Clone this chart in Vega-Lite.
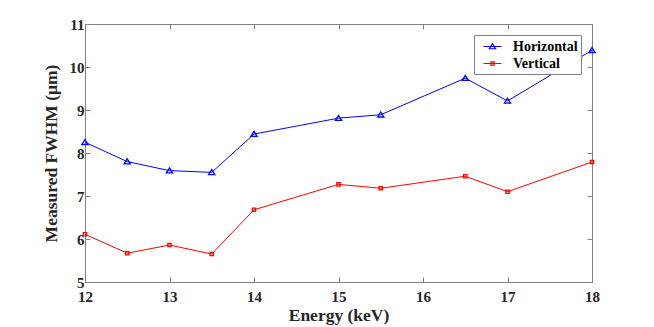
{
  "$schema": "https://vega.github.io/schema/vega-lite/v6.json",
  "autosize": {"type": "none"},
  "width": 507,
  "height": 258,
  "padding": {"left": 85, "top": 24, "right": 62, "bottom": 45},
  "background": "white",
  "config": {
    "view": {"stroke": "#808080", "strokeWidth": 1},
    "font": "Liberation Serif",
    "axis": {
      "grid": false,
      "domainColor": "#808080",
      "tickColor": "#808080",
      "tickSize": -5,
      "labelFlush": false,
      "labelFont": "Liberation Serif",
      "labelFontWeight": "bold",
      "labelFontSize": 15,
      "labelColor": "#262626",
      "titleFont": "Liberation Serif",
      "titleFontWeight": "bold",
      "titleFontSize": 17.5,
      "titleColor": "#262626"
    },
    "legend": {
      "labelFont": "Liberation Serif",
      "labelFontWeight": "bold",
      "labelFontSize": 14,
      "labelColor": "#000000"
    }
  },
  "data": {
    "values": [
      {"energy": 12, "fwhm": 8.25, "dir": "Horizontal"},
      {"energy": 12.5, "fwhm": 7.80, "dir": "Horizontal"},
      {"energy": 13, "fwhm": 7.59, "dir": "Horizontal"},
      {"energy": 13.5, "fwhm": 7.55, "dir": "Horizontal"},
      {"energy": 14, "fwhm": 8.44, "dir": "Horizontal"},
      {"energy": 15, "fwhm": 8.81, "dir": "Horizontal"},
      {"energy": 15.5, "fwhm": 8.89, "dir": "Horizontal"},
      {"energy": 16.5, "fwhm": 9.74, "dir": "Horizontal"},
      {"energy": 17, "fwhm": 9.21, "dir": "Horizontal"},
      {"energy": 18, "fwhm": 10.39, "dir": "Horizontal"},
      {"energy": 12, "fwhm": 6.11, "dir": "Vertical"},
      {"energy": 12.5, "fwhm": 5.67, "dir": "Vertical"},
      {"energy": 13, "fwhm": 5.86, "dir": "Vertical"},
      {"energy": 13.5, "fwhm": 5.65, "dir": "Vertical"},
      {"energy": 14, "fwhm": 6.68, "dir": "Vertical"},
      {"energy": 15, "fwhm": 7.27, "dir": "Vertical"},
      {"energy": 15.5, "fwhm": 7.18, "dir": "Vertical"},
      {"energy": 16.5, "fwhm": 7.46, "dir": "Vertical"},
      {"energy": 17, "fwhm": 7.10, "dir": "Vertical"},
      {"energy": 18, "fwhm": 7.79, "dir": "Vertical"}
    ]
  },
  "layer": [
    {
      "mark": {"type": "line", "strokeWidth": 1},
      "encoding": {
        "x": {"field": "energy", "type": "quantitative", "scale": {"domain": [12, 18], "nice": false},
              "axis": {"title": "Energy (keV)", "values": [12, 13, 14, 15, 16, 17, 18], "labelPadding": 12, "titlePadding": 2}},
        "y": {"field": "fwhm", "type": "quantitative", "scale": {"domain": [5, 11], "nice": false, "zero": false},
              "axis": {"title": "Measured FWHM (μm)", "values": [5, 6, 7, 8, 9, 10, 11], "labelPadding": 6, "titlePadding": 9}},
        "color": {"field": "dir", "type": "nominal", "scale": {"domain": ["Horizontal", "Vertical"], "range": ["#0000ff", "#ff0000"]},
                  "legend": {"title": null, "orient": "top-right", "offset": 11, "strokeColor": "#808080", "fillColor": "white",
                             "padding": 3, "symbolStrokeWidth": 1.2, "rowPadding": 1, "symbolSize": 225, "symbolOffset": 7, "labelOffset": 12, "symbolType": "M-1.2,0H1.2",
                             "encode": {"symbols": {"update": {"shape": {"signal": "datum.value === 'Horizontal' ? 'M-1.2,0H1.2M0,-0.367L0.413,0.3L-0.413,0.3Z' : 'M-1.2,0H1.2M-0.22,-0.22H0.22V0.22H-0.22Z'"}, "fill": {"value": "transparent"}}}}}}
      }
    },
    {
      "transform": [{"filter": "datum.dir === 'Horizontal'"}],
      "mark": {"type": "point", "filled": false, "strokeWidth": 1.3, "opacity": 1, "size": 100, "shape": "M0,-0.55L0.62,0.45L-0.62,0.45Z", "color": "#0000ff"},
      "encoding": {
        "x": {"field": "energy", "type": "quantitative", "axis": {"orient": "top", "labels": false, "title": null, "values": [12, 13, 14, 15, 16, 17, 18]}},
        "y": {"field": "fwhm", "type": "quantitative", "axis": {"orient": "right", "labels": false, "title": null, "values": [5, 6, 7, 8, 9, 10, 11]}}
      }
    },
    {
      "transform": [{"filter": "datum.dir === 'Vertical'"}],
      "mark": {"type": "point", "filled": false, "strokeWidth": 1.3, "opacity": 1, "size": 100, "shape": "M-0.33,-0.33H0.33V0.33H-0.33Z", "color": "#ff0000"},
      "encoding": {
        "x": {"field": "energy", "type": "quantitative", "axis": null},
        "y": {"field": "fwhm", "type": "quantitative", "axis": null}
      }
    }
  ],
  "resolve": {"axis": {"x": "independent", "y": "independent"}}
}
